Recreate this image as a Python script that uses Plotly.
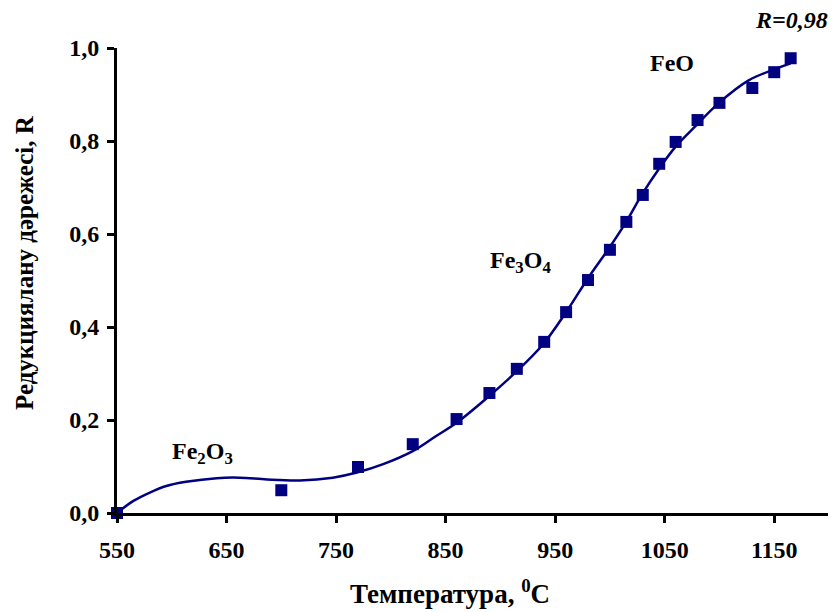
import plotly.graph_objects as go

# Measured data points (temperature, reduction degree R)
temp = [550, 700, 770, 820, 860, 890, 915, 940, 960, 980, 1000, 1015, 1030,
        1045, 1060, 1080, 1100, 1130, 1150, 1165]
r_val = [0.0, 0.049, 0.099, 0.148, 0.202, 0.258, 0.310, 0.368, 0.432, 0.501,
         0.566, 0.626, 0.684, 0.751, 0.798, 0.845, 0.882, 0.914, 0.948, 0.978]

# Trend curve
curve_x = [550, 565, 580, 595, 613, 641, 662, 687, 717, 747, 769, 793, 820,
           841, 860, 890, 915, 939, 960, 980, 999, 1014, 1030, 1045, 1060,
           1079, 1099, 1127, 1150, 1165]
curve_y = [0.0, 0.026, 0.044, 0.058, 0.067, 0.075, 0.076, 0.072, 0.070, 0.076,
           0.087, 0.105, 0.133, 0.165, 0.194, 0.252, 0.305, 0.363, 0.432,
           0.505, 0.569, 0.623, 0.688, 0.741, 0.788, 0.834, 0.881, 0.931,
           0.954, 0.967]

x_ticks = [550, 650, 750, 850, 950, 1050, 1150]
x_tick_text = ["550", "650", "750", "850", "950", "1050", "1150"]
y_ticks = [0.0, 0.2, 0.4, 0.6, 0.8, 1.0]
y_tick_text = ["0,0", "0,2", "0,4", "0,6", "0,8", "1,0"]

NAVY = "#000080"
FONT = "Liberation Serif"


def bold(items):
    return ["<b>%s</b>" % t for t in items]


fig = go.Figure()
fig.add_trace(go.Scatter(x=curve_x, y=curve_y, mode="lines",
                         line=dict(color=NAVY, width=2.5, shape="spline", smoothing=1.0),
                         hoverinfo="skip", cliponaxis=False))
fig.add_trace(go.Scatter(x=temp, y=r_val, mode="markers",
                         marker=dict(symbol="square", size=12, color=NAVY),
                         cliponaxis=False))

tick_font = dict(family=FONT, size=24, color="black")
fig.update_layout(
    width=828, height=604,
    margin=dict(l=109, r=7, t=40, b=99),
    paper_bgcolor="white", plot_bgcolor="white",
    showlegend=False,
    font=dict(family=FONT, color="black"),
    xaxis=dict(range=[550, 1200], tickvals=x_ticks, ticktext=bold(x_tick_text),
               ticks="outside", ticklen=7, tickwidth=3, tickcolor="black",
               showline=True, linewidth=3, linecolor="black",
               showgrid=False, zeroline=False, automargin=False,
               ticklabelstandoff=6, tickfont=tick_font),
    yaxis=dict(range=[0, 1.0], tickvals=y_ticks, ticktext=bold(y_tick_text),
               ticks="outside", ticklen=7, tickwidth=3, tickcolor="black",
               showline=True, linewidth=3, linecolor="black",
               showgrid=False, zeroline=False, automargin=False,
               ticklabelstandoff=3, tickfont=tick_font),
)

ann_font = dict(family=FONT, size=24, color="black")
# Axis titles
fig.add_annotation(xref="paper", yref="paper", x=0.468, y=-0.17,
                   xanchor="center", yanchor="middle",
                   text="<b>Температура, <sup>0</sup>C</b>", showarrow=False,
                   font=dict(family=FONT, size=27, color="black"))
fig.add_annotation(xref="paper", yref="paper", x=-0.129, y=0.538, textangle=-90,
                   xanchor="center", yanchor="middle",
                   text="<b>Редукциялану дәрежесі, R</b>", showarrow=False,
                   font=dict(family=FONT, size=25, color="black"))
# Phase labels
fig.add_annotation(x=628, y=0.129, text="<b>Fe<sub>2</sub>O<sub>3</sub></b>",
                   xanchor="center", yanchor="middle", showarrow=False, font=ann_font)
fig.add_annotation(x=918, y=0.54, text="<b>Fe<sub>3</sub>O<sub>4</sub></b>",
                   xanchor="center", yanchor="middle", showarrow=False, font=ann_font)
fig.add_annotation(x=1057, y=0.968, text="<b>FeO</b>",
                   xanchor="center", yanchor="middle", showarrow=False, font=ann_font)
fig.add_annotation(x=1166, xref="x", yref="paper", y=1.06, text="<b><i>R=0,98</i></b>",
                   xanchor="center", yanchor="middle", showarrow=False, font=ann_font)

fig.write_html("out.html")
